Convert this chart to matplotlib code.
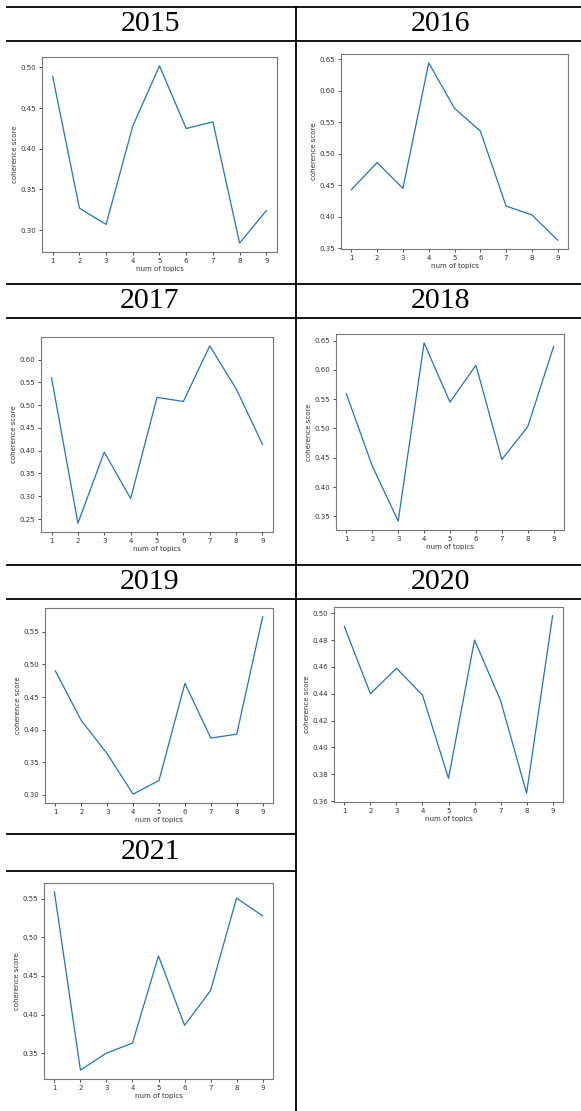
import matplotlib
matplotlib.use("Agg")
import matplotlib.pyplot as plt
from matplotlib.lines import Line2D

years = ['2015', '2016', '2017', '2018', '2019', '2020', '2021']
topics = [1, 2, 3, 4, 5, 6, 7, 8, 9]

score_2015 = [0.489, 0.327, 0.307, 0.428, 0.502, 0.425, 0.433, 0.284, 0.324]
score_2016 = [0.443, 0.486, 0.445, 0.644, 0.572, 0.536, 0.417, 0.403, 0.363]
score_2017 = [0.560, 0.241, 0.397, 0.295, 0.517, 0.508, 0.630, 0.536, 0.414]
score_2018 = [0.559, 0.436, 0.342, 0.646, 0.545, 0.608, 0.447, 0.503, 0.640]
score_2019 = [0.490, 0.414, 0.363, 0.301, 0.322, 0.471, 0.387, 0.393, 0.573]
score_2020 = [0.490, 0.440, 0.459, 0.439, 0.377, 0.480, 0.435, 0.366, 0.498]
score_2021 = [0.559, 0.328, 0.350, 0.363, 0.476, 0.386, 0.431, 0.551, 0.528]

scores = [score_2015, score_2016, score_2017, score_2018,
          score_2019, score_2020, score_2021]

W, H = 581, 1111
fig = plt.figure(figsize=(W / 100, H / 100), dpi=100)

# plot boxes in pixels: left, top, right, bottom
boxes = [(42, 57, 277, 252), (341, 54, 568, 249),
         (41, 337, 273, 532), (336, 334, 564, 530),
         (45, 608, 273, 803), (334, 607, 563, 802),
         (44, 883, 273, 1079)]

# header title centres (x, y) in pixels
heads = [(150, 24), (440, 24), (150, 301), (440, 301),
         (150, 582), (440, 582), (150, 852)]


def hline(y, x0, x1):
    fig.add_artist(Line2D([x0 / W, x1 / W], [1 - y / H, 1 - y / H],
                          color='black', lw=1.3))


def vline(x, y0, y1):
    fig.add_artist(Line2D([x / W, x / W], [1 - y0 / H, 1 - y1 / H],
                          color='black', lw=1.3))


# table grid
for y in [7, 41, 284, 318, 565, 599]:
    hline(y, 7, W)
hline(834, 7, 296)
hline(871, 7, 296)
vline(296, 7, H)

for year, vals, (l, t, r, b), (hx, hy) in zip(years, scores, boxes, heads):
    ax = fig.add_axes([l / W, 1 - b / H, (r - l) / W, (b - t) / H])
    ax.plot(topics, vals, color='#1f77b4', lw=0.9)
    ax.set_xticks(topics)
    ax.tick_params(labelsize=5, length=2, width=0.6, pad=2,
                   colors='#333333')
    ax.set_xlabel('num of topics', fontsize=5, labelpad=2, color='#333333')
    ax.set_ylabel('coherence score', fontsize=5, labelpad=2, color='#333333')
    for s in ax.spines.values():
        s.set_color('#777777')
        s.set_linewidth(0.8)
    fig.text(hx / W, 1 - hy / H, year, ha='center', va='center',
             fontsize=21.5, family='Liberation Serif')

fig.savefig('out.png', dpi=100)
